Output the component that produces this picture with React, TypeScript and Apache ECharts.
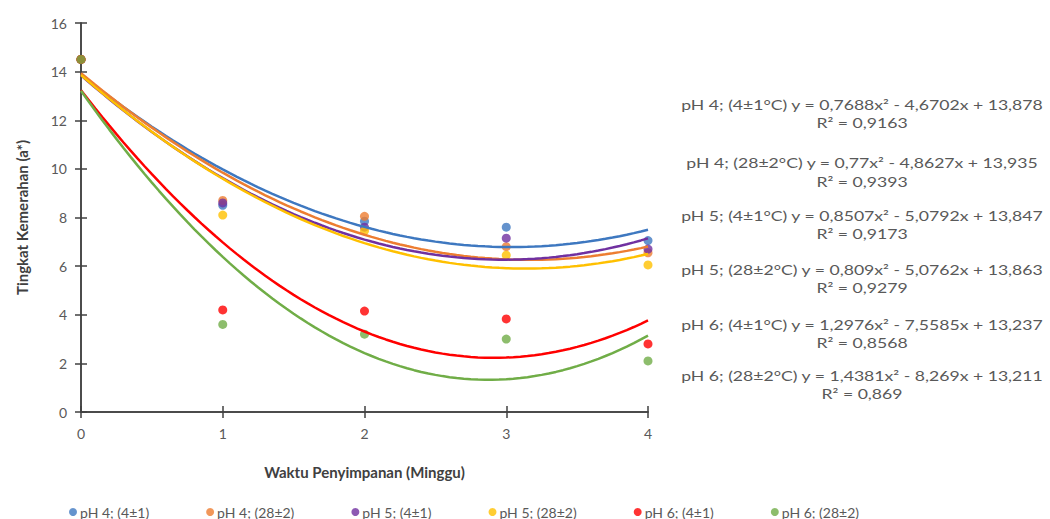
import React, { useEffect, useRef } from "react";
import * as echarts from "echarts";

const weeks = [0, 1, 2, 3, 4];
const seriesNames = ["pH 4; (4±1)", "pH 4; (28±2)", "pH 5; (4±1)", "pH 5; (28±2)", "pH 6; (4±1)", "pH 6; (28±2)"];
const eqLabels = ["pH 4; (4±1°C)", "pH 4; (28±2°C)", "pH 5; (4±1°C)", "pH 5; (28±2°C)", "pH 6; (4±1°C)", "pH 6; (28±2°C)"];
const ph4Cold = [14.5, 8.5, 7.85, 7.6, 7.05];
const ph4Warm = [14.5, 8.7, 8.05, 6.8, 6.55];
const ph5Cold = [14.5, 8.6, 7.6, 7.15, 6.7];
const ph5Warm = [14.5, 8.1, 7.45, 6.45, 6.05];
const ph6Cold = [14.5, 4.2, 4.15, 3.83, 2.8];
const ph6Warm = [14.5, 3.6, 3.2, 3.0, 2.1];
const values = [ph4Cold, ph4Warm, ph5Cold, ph5Warm, ph6Cold, ph6Warm];
// trendline coefficients a x^2 + b x + c
const coefA = [0.7688, 0.77, 0.8507, 0.809, 1.2976, 1.4381];
const coefB = [-4.6702, -4.8627, -5.0792, -5.0762, -7.5585, -8.269];
const coefC = [13.878, 13.935, 13.847, 13.863, 13.237, 13.211];
const rSquared = [0.9163, 0.9393, 0.9173, 0.9279, 0.8568, 0.869];
const yTicks = [0, 2, 4, 6, 8, 10, 12, 14, 16];

const colors = ["#3E78C0", "#ED7D31", "#7030A0", "#FFC000", "#FF0000", "#70AD47"];
const eqY = [104, 122, 162, 181, 215, 233, 269, 287, 324, 342, 375, 393];

const fmt = (v: number) => String(Math.abs(v)).replace(".", ",");

export default function App() {
  const ref = useRef<HTMLDivElement>(null);
  useEffect(() => {
    if (!ref.current) return;
    const chart = echarts.init(ref.current, undefined, { renderer: "svg" });
    const font = "Lato, 'Open Sans', sans-serif";
    const txt = "#595959";
    const dark = "#404040";

    const scatterSeries = values.map((vals, i) => ({
      name: seriesNames[i],
      type: "scatter",
      data: weeks.map((w, j) => [w, vals[j]]),
      symbol: "circle",
      symbolSize: 9,
      itemStyle: { color: colors[i] },
      z: 3,
    }));

    const trendSeries = coefA.map((a, i) => {
      const pts: number[][] = [];
      for (let k = 0; k <= 80; k++) {
        const x = k / 20;
        pts.push([x, a * x * x + coefB[i] * x + coefC[i]]);
      }
      return {
        name: "trend" + i,
        type: "line",
        data: pts,
        showSymbol: false,
        symbol: "none",
        smooth: false,
        lineStyle: { color: colors[i], width: 2.5 },
        z: 4,
        silent: true,
      };
    });

    const eqTexts: any[] = [];
    coefA.forEach((a, i) => {
      eqTexts.push({
        type: "text",
        x: 862,
        y: eqY[i * 2],
        scaleX: 1.26,
        style: {
          text: `${eqLabels[i]} y = ${fmt(a)}x² - ${fmt(coefB[i])}x + ${fmt(coefC[i])}`,
          fill: txt,
          font: `14px ${font}`,
          textAlign: "center",
          textVerticalAlign: "middle",
        },
      });
      eqTexts.push({
        type: "text",
        x: 862,
        y: eqY[i * 2 + 1],
        scaleX: 1.26,
        style: {
          text: `R² = ${fmt(rSquared[i])}`,
          fill: txt,
          font: `14px ${font}`,
          textAlign: "center",
          textVerticalAlign: "middle",
        },
      });
    });

    const axisLine = { show: true, lineStyle: { color: dark, width: 1.5 } };

    chart.setOption({
      animation: false,
      textStyle: { fontFamily: font },
      grid: { left: 81, right: 402, top: 23, bottom: 107, containLabel: false },
      legend: {
        data: seriesNames,
        left: 64,
        top: 500,
        icon: "circle",
        itemWidth: 8,
        itemHeight: 8,
        itemGap: 57,
        textStyle: { color: txt, fontSize: 14, fontFamily: font, padding: [0, 0, 0, -2] },
      },
      xAxis: [
        {
          type: "value",
          min: 0,
          max: 4,
          interval: 1,
          axisLine,
          axisTick: { show: true, length: 6, lineStyle: { color: dark, width: 1.5 } },
          axisLabel: { color: txt, fontSize: 14, margin: 14 },
          splitLine: { show: false },
          name: "Waktu Penyimpanan (Minggu)",
          nameLocation: "middle",
          nameGap: 52,
          nameTextStyle: { color: dark, fontSize: 15, fontWeight: "bold" },
        },
        {
          type: "value",
          min: 0,
          max: 4,
          interval: 1,
          position: "bottom",
          offset: 0,
          axisLine,
          axisTick: { show: true, inside: true, length: 6, lineStyle: { color: dark, width: 1.5 } },
          axisLabel: { show: false },
          splitLine: { show: false },
        },
      ],
      yAxis: [
        {
          type: "value",
          min: yTicks[0],
          max: yTicks[yTicks.length - 1],
          interval: 2,
          axisLine,
          axisTick: { show: true, length: 6, lineStyle: { color: dark, width: 1.5 } },
          axisLabel: { color: txt, fontSize: 14, margin: 14 },
          splitLine: { show: false },
          name: "Tingkat Kemerahan (a*)",
          nameLocation: "middle",
          nameGap: 52,
          nameTextStyle: { color: dark, fontSize: 15, fontWeight: "bold" },
        },
        {
          type: "value",
          min: yTicks[0],
          max: yTicks[yTicks.length - 1],
          interval: 2,
          position: "left",
          offset: 0,
          axisLine,
          axisTick: { show: true, inside: true, length: 6, lineStyle: { color: dark, width: 1.5 } },
          axisLabel: { show: false },
          splitLine: { show: false },
        },
      ],
      series: [...scatterSeries, ...trendSeries],
      graphic: eqTexts,
    });
    return () => chart.dispose();
  }, []);
  return <div ref={ref} style={{ width: 1050, height: 519, position: "absolute", left: 0, top: 0 }} />;
}
